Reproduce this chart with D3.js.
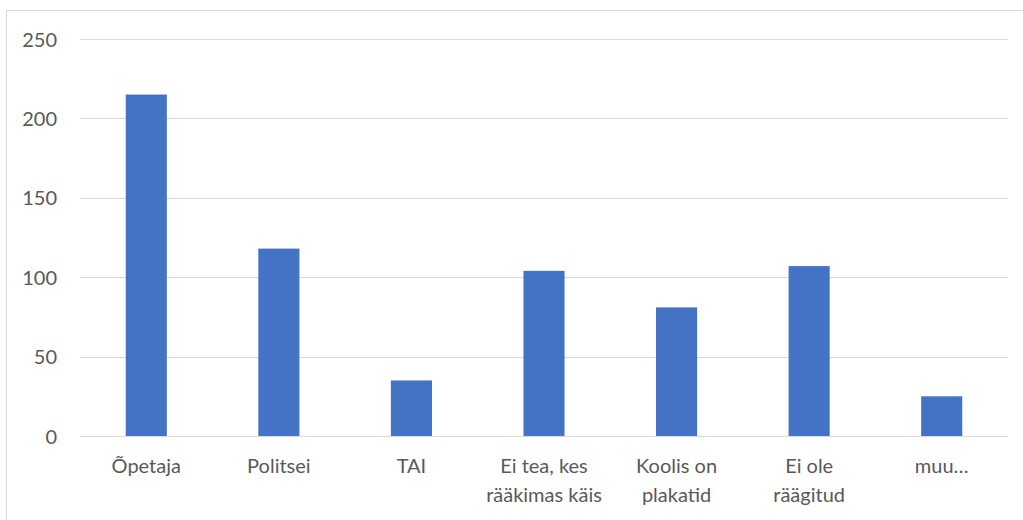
<!DOCTYPE html>
<html>
<head>
<meta charset="utf-8">
<script src="https://cdn.jsdelivr.net/npm/d3@7"></script>
<style>
  html, body { margin: 0; padding: 0; background: #fff; }
  svg { display: block; }
  text { font-family: Lato, "Open Sans", sans-serif; fill: #595959; }
</style>
</head>
<body>
<svg id="chart" width="1023" height="520"></svg>
<script>
const categories = ["Õpetaja", "Politsei", "TAI", "Ei tea, kes\nrääkimas käis", "Koolis on\nplakatid", "Ei ole\nräägitud", "muu…"];
const values = [215, 118, 35, 104, 81, 107, 25];
const yTicks = [0, 50, 100, 150, 200, 250];

const W = 1023, H = 520;
const margin = { left: 80, right: 15, top: 39, bottom: 84 };
const svg = d3.select("#chart");

// chart border
svg.append("rect")
  .attr("x", 6.5).attr("y", 10.5)
  .attr("width", W + 20).attr("height", H + 20)
  .attr("fill", "none").attr("stroke", "#d9d9d9").attr("stroke-width", 1);

const x = d3.scaleBand()
  .domain(categories)
  .range([margin.left, W - margin.right])
  .paddingInner(0.69)
  .paddingOuter(0.345);

const y = d3.scaleLinear()
  .domain([0, 250])
  .range([H - margin.bottom, margin.top]);

// gridlines
svg.append("g")
  .selectAll("line")
  .data(yTicks)
  .join("line")
  .attr("x1", margin.left).attr("x2", W - margin.right)
  .attr("y1", d => Math.round(y(d)) + 0.5).attr("y2", d => Math.round(y(d)) + 0.5)
  .attr("stroke", "#d9d9d9").attr("stroke-width", 1);

// y axis labels
const yAxis = d3.axisLeft(y).tickValues(yTicks).tickSize(0).tickPadding(0);
const yg = svg.append("g").attr("transform", `translate(57,0)`).call(yAxis);
yg.select(".domain").remove();
yg.selectAll("text")
  .attr("font-size", "20px")
  .attr("font-family", "Lato, 'Open Sans', sans-serif")
  .attr("fill", "#595959")
  .attr("dy", "0.35em");

// bars
svg.append("g")
  .selectAll("rect")
  .data(values)
  .join("rect")
  .attr("x", (d, i) => x(categories[i]))
  .attr("width", x.bandwidth())
  .attr("y", d => y(d))
  .attr("height", d => y(0) - y(d))
  .attr("fill", "#4472c4");

// x axis labels
const xAxis = d3.axisBottom(x).tickSize(0).tickFormat("");
const xg = svg.append("g").attr("transform", `translate(0,${y(0)})`).call(xAxis);
xg.select(".domain").remove();
xg.selectAll(".tick").each(function(d) {
  const t = d3.select(this).append("text")
    .attr("text-anchor", "middle")
    .attr("font-size", "20px")
    .attr("fill", "#595959")
    .attr("font-family", "Lato, 'Open Sans', sans-serif");
  d.split("\n").forEach((line, i) => {
    t.append("tspan").attr("x", 0).attr("y", 37 + i * 29).text(line);
  });
});
</script>
</body>
</html>
